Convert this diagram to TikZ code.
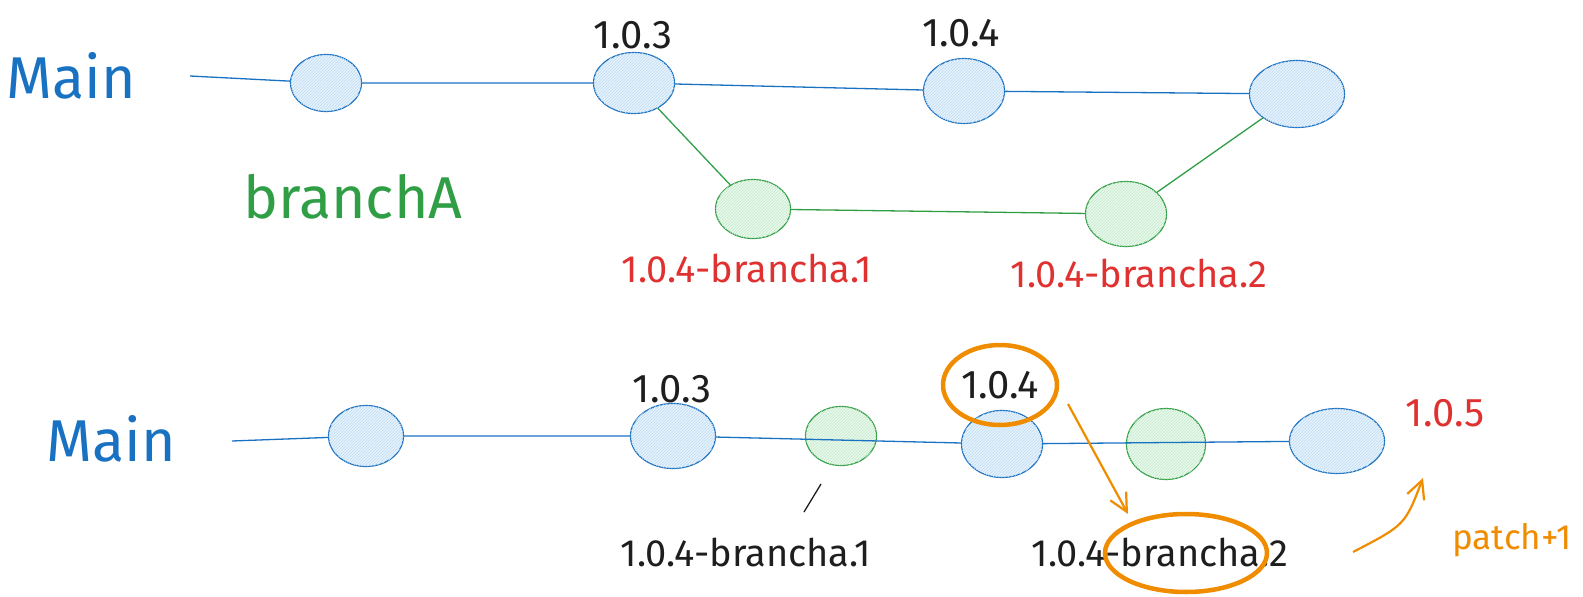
\documentclass[tikz,border=0pt]{standalone}
\usepackage{fontspec}
\setmainfont{Fira Sans}
\usetikzlibrary{shapes.geometric,arrows.meta,patterns}

\definecolor{mainblue}{HTML}{1971C2}
\definecolor{mainfill}{HTML}{E3F2FF}
\definecolor{brgreen}{HTML}{2F9E44}
\definecolor{brfill}{HTML}{E6FAE9}
\definecolor{tagred}{HTML}{E03131}
\definecolor{hiorange}{HTML}{F08C00}
\definecolor{ink}{HTML}{1E1E1E}

\tikzset{
  commit/.style = {ellipse, draw = mainblue, fill = mainfill, line width = 1.2pt, inner sep = 0pt,
    postaction = {pattern = north east lines, pattern color = mainblue!25}},
  brcommit/.style = {ellipse, draw = brgreen, fill = brfill, line width = 1.2pt, inner sep = 0pt,
    postaction = {pattern = north east lines, pattern color = brgreen!25}},
  mainline/.style = {draw = mainblue, line width = 1.3pt},
  brline/.style = {draw = brgreen, line width = 1.3pt},
  ver/.style = {text = ink, font = \fontsize{40}{46}\selectfont},
  longver/.style = {text = ink, font = \fontsize{38}{44}\selectfont},
  tag/.style = {text = tagred, font = \fontsize{38}{44}\selectfont},
  title/.style = {font = \fontsize{59}{64}\selectfont},
  hilite/.style = {ellipse, draw = hiorange, line width = 4.5pt, inner sep = 0pt},
  hiarrow/.style = {draw = hiorange, line width = 2.2pt, -{Straight Barb[length = 18pt, width = 18pt]}},
}

\begin{document}
\begin{tikzpicture}[x = 1pt, y = -1pt]
\useasboundingbox (0, 0) rectangle (1583, 597);

% top: branch merged back into main
\node[title, text = mainblue] (topmain) at (71, 76) {Main};
\node[title, text = brgreen] (branchname) at (353, 197) {branchA};
\coordinate (topstart) at (190, 76);
\node[commit, minimum width = 71pt, minimum height = 57pt] (t1) at (326, 83) {};
\node[commit, minimum width = 81pt, minimum height = 61pt] (t2) at (634, 83) {};
\node[commit, minimum width = 81pt, minimum height = 65pt] (t3) at (964, 91) {};
\node[commit, minimum width = 95pt, minimum height = 67pt] (t4) at (1297, 94) {};
\node[brcommit, minimum width = 75pt, minimum height = 59pt] (g1) at (753, 209) {};
\node[brcommit, minimum width = 81pt, minimum height = 65pt] (g2) at (1126, 214) {};
\node[ver] (t2lbl) at (633, 35) {1.0.3};
\node[ver] (t3lbl) at (961, 33) {1.0.4};
\node[tag] (g1lbl) at (747, 268) {1.0.4-brancha.1};
\node[tag] (g2lbl) at (1139, 273) {1.0.4-brancha.2};
\draw[mainline] (topstart) -- (t1) -- (t2) -- (t3) -- (t4);
\draw[brline] (t2) -- (g1) -- (g2) -- (t4);

% bottom: same history squashed onto main
\node[title, text = mainblue] (botmain) at (111, 439) {Main};
\coordinate (botstart) at (232, 441);
\node[commit, minimum width = 75pt, minimum height = 61pt] (b1) at (366, 436) {};
\node[commit, minimum width = 85pt, minimum height = 65pt] (b2) at (673, 436) {};
\node[brcommit, minimum width = 71pt, minimum height = 59pt] (b3) at (841, 436) {};
\node[commit, minimum width = 81pt, minimum height = 67pt] (b4) at (1002, 444) {};
\node[brcommit, minimum width = 79pt, minimum height = 71pt] (b5) at (1166, 444) {};
\node[commit, minimum width = 95pt, minimum height = 65pt] (b6) at (1337, 441) {};
\draw[mainline] (botstart) -- (b1) -- (b2) -- (b4) -- (b6);

\node[ver] (b2lbl) at (672, 389) {1.0.3};
\node[ver, hilite, minimum width = 114pt, minimum height = 80pt] (b4lbl) at (1000, 385) {1.0.4};
\node[tag, font = \fontsize{40}{46}\selectfont] (newtag) at (1445, 413) {1.0.5};
\node[longver] (b3lbl) at (746, 552) {1.0.4-brancha.1};
\node[longver] (b5lbl) at (1160, 552) {1.0.4-brancha.2};
\node[hilite, minimum width = 162pt, minimum height = 78pt] (prering) at (1186, 553) {};
\node[text = hiorange, font = \fontsize{35}{40}\selectfont] (bump) at (1512, 540) {patch+1};

\coordinate (tick1) at (804, 512);
\coordinate (tick2) at (821, 484);
\draw[ink, line width = 1.3pt] (tick1) -- (tick2);

\coordinate (arr1) at (1068, 404);
\coordinate (arr2) at (1128, 514);
\draw[hiarrow] (arr1) -- (arr2);
\coordinate (bump1) at (1353, 552);
\coordinate (bump2) at (1423, 478);
\draw[hiarrow] (bump1) .. controls (1405, 525) .. (bump2);
\end{tikzpicture}
\end{document}
